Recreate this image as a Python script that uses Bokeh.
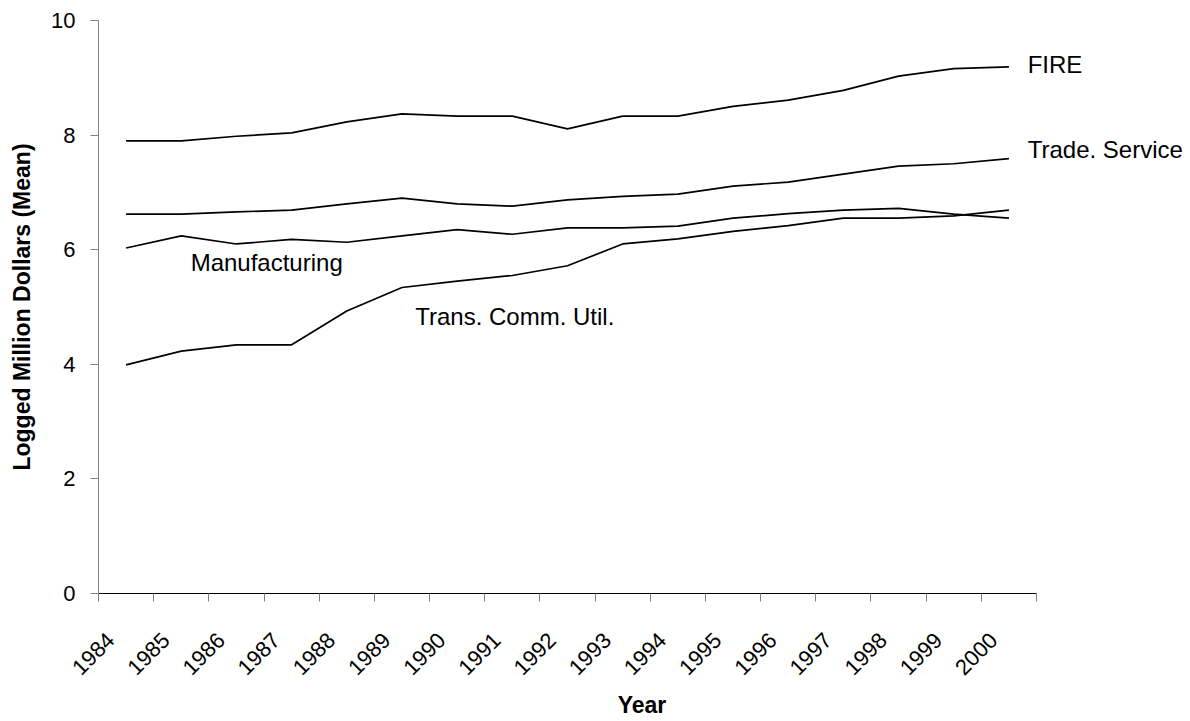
import math
from bokeh.plotting import figure
from bokeh.models import Range1d, FixedTicker, Label, LinearAxis
from bokeh.embed import file_html
from bokeh.resources import INLINE

years = ["1984", "1985", "1986", "1987", "1988", "1989", "1990", "1991", "1992",
         "1993", "1994", "1995", "1996", "1997", "1998", "1999", "2000"]
fire = [7.90, 7.90, 7.98, 8.04, 8.23, 8.37, 8.33, 8.33, 8.11, 8.33, 8.33, 8.50,
        8.61, 8.78, 9.03, 9.16, 9.19]
trade_service = [6.62, 6.62, 6.66, 6.69, 6.80, 6.90, 6.80, 6.76, 6.87, 6.93, 6.97,
                 7.11, 7.18, 7.32, 7.46, 7.50, 7.59]
manufacturing = [6.03, 6.24, 6.10, 6.18, 6.13, 6.24, 6.35, 6.27, 6.38, 6.38, 6.41,
                 6.55, 6.63, 6.69, 6.72, 6.62, 6.55]
trans_comm_util = [3.99, 4.23, 4.34, 4.34, 4.93, 5.34, 5.45, 5.55, 5.72, 6.10, 6.19,
                   6.32, 6.42, 6.55, 6.55, 6.59, 6.69]
y_ticks = [0, 2, 4, 6, 8, 10]

series = [fire, trade_service, manufacturing, trans_comm_util]
n = len(years)
xs = [i + 0.5 for i in range(n)]

FONT = "Liberation Sans"

p = figure(width=1185, height=720, output_backend="svg", toolbar_location=None,
           x_range=Range1d(0, 19.70), y_range=Range1d(0, 10),
           min_border_left=98, min_border_right=0, min_border_top=20,
           min_border_bottom=125)
p.outline_line_color = None
p.xgrid.grid_line_color = None
p.ygrid.grid_line_color = None
p.background_fill_color = "white"
p.border_fill_color = "white"

for s in series:
    p.line(xs, s, line_color="black", line_width=1.7)

# x axis: tick marks at category boundaries
xa = p.xaxis[0]
xa.bounds = (0, n)
xa.ticker = FixedTicker(ticks=list(range(n + 1)))
xa.major_label_text_font_size = "0px"
xa.major_label_text_color = None
xa.major_label_standoff = 0
xa.minor_tick_line_color = None
xa.major_tick_in = 0
xa.major_tick_out = 8
xa.axis_line_color = "black"
xa.major_tick_line_color = "#808080"

# x axis: year labels
xl = LinearAxis(bounds=(0, n), ticker=FixedTicker(ticks=[i + 0.22 for i in range(n)]))
xl.major_label_overrides = {i + 0.22: years[i] for i in range(n)}
xl.major_label_orientation = math.pi / 4
xl.axis_line_color = None
xl.major_tick_line_color = None
xl.minor_tick_line_color = None
xl.major_tick_in = 0
xl.major_tick_out = 0
xl.major_label_text_font = FONT
xl.major_label_text_font_size = "22px"
xl.major_label_text_color = "black"
xl.major_label_standoff = 35
xl.axis_label = "Year"
xl.axis_label_text_font = FONT
xl.axis_label_text_font_style = "bold"
xl.axis_label_text_font_size = "23px"
xl.axis_label_text_color = "black"
xl.axis_label_standoff = 7
p.add_layout(xl, "below")

# y axis
ya = p.yaxis[0]
ya.ticker = FixedTicker(ticks=y_ticks)
ya.minor_tick_line_color = None
ya.major_tick_in = 0
ya.major_tick_out = 8
ya.axis_line_color = "#808080"
ya.major_tick_line_color = "#808080"
ya.major_label_text_font = FONT
ya.major_label_text_font_size = "22px"
ya.major_label_text_color = "black"
ya.major_label_standoff = 15
ya.axis_label = "Logged Million Dollars (Mean)"
ya.axis_label_text_font = FONT
ya.axis_label_text_font_style = "bold"
ya.axis_label_text_font_size = "23px"
ya.axis_label_text_color = "black"
ya.axis_label_standoff = 13

labels = [("FIRE", 16.84, 9.23), ("Trade. Service", 16.84, 7.74),
          ("Manufacturing", 1.67, 5.77), ("Trans. Comm. Util.", 5.74, 4.83)]
for txt, lx, ly in labels:
    p.add_layout(Label(x=lx, y=ly, text=txt, text_font=FONT, text_font_size="24px",
                       text_baseline="middle", text_align="left", text_color="black"))

open("out.html", "w").write(file_html(p, INLINE))
